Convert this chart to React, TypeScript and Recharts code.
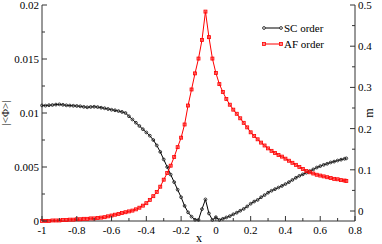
import { ComposedChart, Line, XAxis, YAxis } from "recharts";

// x (doping) values, SC order parameter |<Φ>| (left axis) and AF moment m (right axis)
const xs = [
  -1, -0.98, -0.96, -0.94, -0.92, -0.9, -0.88, -0.86, -0.84, -0.82,
  -0.8, -0.78, -0.76, -0.74, -0.72, -0.7, -0.68, -0.66, -0.64, -0.62,
  -0.6, -0.58, -0.56, -0.54, -0.52, -0.5, -0.48, -0.46, -0.44, -0.42,
  -0.4, -0.38, -0.36, -0.34, -0.32, -0.3, -0.28, -0.26, -0.24, -0.22,
  -0.2, -0.18, -0.16, -0.14, -0.12, -0.1, -0.08, -0.06, -0.04, -0.02,
  0, 0.02, 0.04, 0.06, 0.08, 0.1, 0.12, 0.14, 0.16, 0.18,
  0.2, 0.22, 0.24, 0.26, 0.28, 0.3, 0.32, 0.34, 0.36, 0.38,
  0.4, 0.42, 0.44, 0.46, 0.48, 0.5, 0.52, 0.54, 0.56, 0.58,
  0.6, 0.62, 0.64, 0.66, 0.68, 0.7, 0.72, 0.74, 0.75,
];

const scOrder = [
  0.0107, 0.01068, 0.01072, 0.01074, 0.01078, 0.0108, 0.01076, 0.01071, 0.01069, 0.01067,
  0.01065, 0.01062, 0.01057, 0.01053, 0.01056, 0.01058, 0.01055, 0.01049, 0.01044, 0.01037,
  0.0103, 0.01025, 0.01018, 0.0101, 0.01, 0.0097, 0.0094, 0.0091, 0.0088, 0.0085,
  0.0082, 0.0079, 0.0075, 0.007, 0.0064, 0.0057, 0.005, 0.0043, 0.0036, 0.0029,
  0.0022, 0.0014, 0.0008, 0.0004, 0.00012, 0.0001, 0.0011, 0.002, 0.0007, 0.0001,
  0.00035, 0.0001, 0.0002, 0.00033, 0.00045, 0.00062, 0.00077, 0.00095, 0.00112, 0.00135,
  0.0016, 0.0018, 0.00195, 0.0022, 0.0024, 0.00262, 0.0028, 0.00295, 0.0031, 0.00325,
  0.00342, 0.0036, 0.0038, 0.004, 0.00418, 0.00432, 0.00447, 0.00462, 0.00478, 0.00495,
  0.00508, 0.0052, 0.0053, 0.00542, 0.0055, 0.0056, 0.00568, 0.00576, 0.0058,
];

const afOrder = [
  -0.024, -0.024, -0.024, -0.023, -0.023, -0.023, -0.022, -0.022, -0.021, -0.021,
  -0.02, -0.02, -0.019, -0.019, -0.018, -0.018, -0.017, -0.016, -0.015, -0.013,
  -0.011, -0.009, -0.007, -0.005, -0.003, -0.001, 0.001, 0.004, 0.008, 0.013,
  0.019, 0.027, 0.036, 0.046, 0.059, 0.076, 0.092, 0.11, 0.131, 0.155,
  0.178, 0.21, 0.256, 0.295, 0.334, 0.37, 0.415, 0.484, 0.422, 0.37,
  0.335, 0.308, 0.289, 0.272, 0.258, 0.246, 0.236, 0.225, 0.214, 0.203,
  0.191, 0.182, 0.174, 0.166, 0.159, 0.152, 0.146, 0.141, 0.136, 0.132,
  0.127, 0.122, 0.117, 0.112, 0.107, 0.102, 0.097, 0.094, 0.091, 0.088,
  0.086, 0.084, 0.082, 0.08, 0.078, 0.077, 0.075, 0.074, 0.073,
];

const xTicks = [-1, -0.9, -0.8, -0.7, -0.6, -0.5, -0.4, -0.3, -0.2, -0.1, 0, 0.1, 0.2, 0.3, 0.4, 0.5, 0.6, 0.7, 0.8];
const leftTicks = [0, 0.0025, 0.005, 0.0075, 0.01, 0.0125, 0.015, 0.0175, 0.02];
const rightTicks = [0, 0.05, 0.1, 0.15, 0.2, 0.25, 0.3, 0.35, 0.4, 0.45, 0.5];

const data = xs.map((x, i) => ({ x, sc: scOrder[i], af: afOrder[i] }));

const FONT = "Liberation Serif, DejaVu Serif, serif";
const AXIS = "#333";
const txt = { fontFamily: FONT, fontSize: 11 };

const isMajorX = (v: number) => Math.abs(Math.round(v * 10)) % 2 === 0;

function BottomTick(props: any) {
  const { x, y, payload } = props;
  const v = payload.value;
  const major = isMajorX(v);
  return (
    <g>
      <line x1={x} x2={x} y1={y} y2={y - (major ? 5 : 3)} stroke={AXIS} />
      {major && (
        <text x={x} y={y + 13} textAnchor="middle" style={txt} fill="#000">
          {Number(v.toFixed(1)).toString()}
        </text>
      )}
    </g>
  );
}

function TopTick(props: any) {
  const { x, y, payload } = props;
  const major = isMajorX(payload.value);
  return <line x1={x} x2={x} y1={y} y2={y + (major ? 5 : 3)} stroke={AXIS} />;
}

function LeftTick(props: any) {
  const { x, y, payload, index } = props;
  const major = index % 2 === 0;
  return (
    <g>
      <line x1={x} x2={x + (major ? 5 : 3)} y1={y} y2={y} stroke={AXIS} />
      {major && (
        <text x={x - 3} y={y + 4} textAnchor="end" style={txt} fill="#000">
          {String(payload.value)}
        </text>
      )}
    </g>
  );
}

function RightTick(props: any) {
  const { x, y, payload, index } = props;
  const major = index % 2 === 0;
  return (
    <g>
      <line x1={x} x2={x - (major ? 5 : 3)} y1={y} y2={y} stroke={AXIS} />
      {major && (
        <text x={x + 3} y={y + 4} textAnchor="start" style={txt} fill="#000">
          {Number(payload.value.toFixed(1)).toString()}
        </text>
      )}
    </g>
  );
}

const circleDot = (p: any) => (
  <circle key={`c${p.index}`} cx={p.cx} cy={p.cy} r={1.4} fill="none" stroke="#222" strokeWidth={0.9} />
);

const squareDot = (p: any) => (
  <rect
    key={`s${p.index}`}
    x={p.cx - 1.5}
    y={p.cy - 1.5}
    width={3}
    height={3}
    fill="#ff3030"
    fillOpacity={0.6}
    stroke="#ff0000"
    strokeWidth={0.8}
  />
);

export default function App() {
  return (
    <div style={{ position: "relative", width: 382, height: 244 }}>
      <style>{`body{margin:0}`}</style>
      <ComposedChart width={382} height={244} data={data} margin={{ top: 5, right: 0, bottom: 0, left: 0 }}>
        <XAxis
          dataKey="x"
          type="number"
          domain={[-1, 0.8]}
          ticks={xTicks}
          interval={0}
          height={23}
          tickSize={0}
          tickMargin={0}
          tickLine={false}
          axisLine={{ stroke: AXIS }}
          tick={<BottomTick />}
        />
        <XAxis
          xAxisId="top"
          orientation="top"
          dataKey="x"
          type="number"
          domain={[-1, 0.8]}
          ticks={xTicks}
          interval={0}
          height={0}
          tickSize={0}
          tickMargin={0}
          tickLine={false}
          axisLine={{ stroke: AXIS }}
          tick={<TopTick />}
        />
        <YAxis
          yAxisId="left"
          type="number"
          domain={[0, 0.02]}
          ticks={leftTicks}
          interval={0}
          width={42}
          tickSize={0}
          tickMargin={0}
          tickLine={false}
          axisLine={{ stroke: AXIS }}
          tick={<LeftTick />}
        />
        <YAxis
          yAxisId="right"
          orientation="right"
          type="number"
          domain={[-0.02427, 0.5]}
          ticks={rightTicks}
          interval={0}
          width={27}
          tickSize={0}
          tickMargin={0}
          tickLine={false}
          axisLine={{ stroke: AXIS }}
          tick={<RightTick />}
        />
        <Line
          yAxisId="left"
          dataKey="sc"
          type="linear"
          stroke="#000"
          strokeWidth={1}
          dot={circleDot}
          activeDot={false}
          isAnimationActive={false}
        />
        <Line
          yAxisId="right"
          dataKey="af"
          type="linear"
          stroke="#ff0000"
          strokeWidth={1}
          dot={squareDot}
          activeDot={false}
          isAnimationActive={false}
        />
      </ComposedChart>
      <svg
        width={382}
        height={244}
        style={{ position: "absolute", left: 0, top: 0, pointerEvents: "none", fontFamily: FONT }}
      >
        <text x={9} y={113} transform="rotate(-90 9 113)" textAnchor="middle" style={txt} fill="#000">
          |&lt;Φ&gt;|
        </text>
        <text x={373} y={113} transform="rotate(-90 373 113)" textAnchor="middle" style={{ ...txt, fontSize: 12 }} fill="#000">
          m
        </text>
        <text x={199} y={242} textAnchor="middle" style={{ ...txt, fontSize: 12 }} fill="#000">
          x
        </text>
        <line x1={264} x2={281} y1={28} y2={28} stroke="#000" />
        <circle cx={264} cy={28} r={1.4} fill="#fff" stroke="#222" strokeWidth={0.9} />
        <circle cx={281} cy={28} r={1.4} fill="#fff" stroke="#222" strokeWidth={0.9} />
        <text x={284} y={32} style={txt} fill="#000">
          SC order
        </text>
        <line x1={264} x2={281} y1={44} y2={44} stroke="#ff0000" />
        <rect x={262.5} y={42.5} width={3} height={3} fill="#ff8080" stroke="#ff0000" strokeWidth={0.8} />
        <rect x={279.5} y={42.5} width={3} height={3} fill="#ff8080" stroke="#ff0000" strokeWidth={0.8} />
        <text x={284} y={48} style={txt} fill="#000">
          AF order
        </text>
      </svg>
    </div>
  );
}
